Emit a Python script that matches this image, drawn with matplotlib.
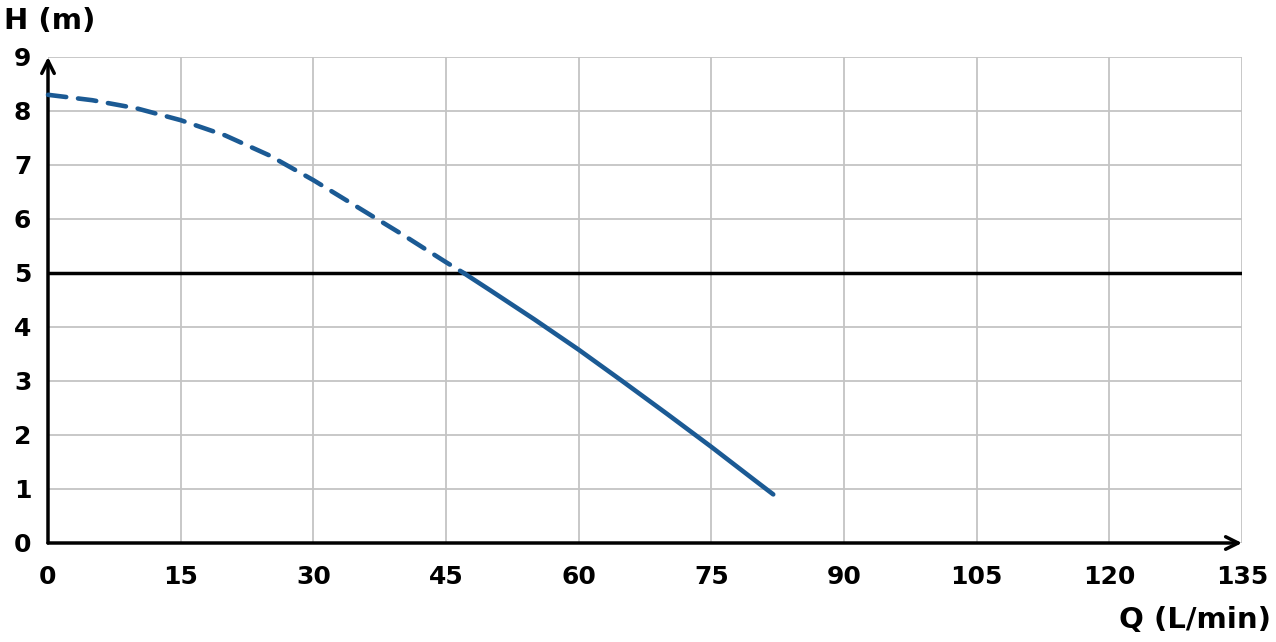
import matplotlib
matplotlib.use("Agg")
import matplotlib.pyplot as plt

# pump curve
q_dashed = [0, 5, 10, 15, 20, 25, 30, 35, 40, 45, 47]
h_dashed = [8.3, 8.2, 8.05, 7.83, 7.55, 7.18, 6.72, 6.22, 5.72, 5.2, 5.0]
q_solid = [47, 50, 55, 60, 65, 70, 75, 80, 82]
h_solid = [5.0, 4.68, 4.14, 3.58, 2.99, 2.39, 1.78, 1.15, 0.9]

h_limit = 5
x_ticks = [0, 15, 30, 45, 60, 75, 90, 105, 120, 135]
y_ticks = [0, 1, 2, 3, 4, 5, 6, 7, 8, 9]

blue = "#1b5a94"
plt.rcParams["font.family"] = ["DejaVu Sans"]

fig = plt.figure(figsize=(12.76, 6.42), dpi=100)
ax = fig.add_axes([48 / 1276, 1 - 543 / 642, (1242 - 48) / 1276, (543 - 57) / 642])
ax.set_xlim(0, 135)
ax.set_ylim(0, 9)

ax.set_xticks(x_ticks)
ax.set_yticks(y_ticks)
ax.grid(True, color="#c4c4c4", linewidth=1.3)
ax.set_axisbelow(True)
for s in ax.spines.values():
    s.set_visible(False)
ax.tick_params(length=0, labelsize=18)
for lab in ax.get_xticklabels() + ax.get_yticklabels():
    lab.set_fontweight("bold")
ax.tick_params(axis="y", pad=12)
ax.tick_params(axis="x", pad=16)

# axes with arrows
arrow = dict(arrowstyle="->,head_length=0.9,head_width=0.45", lw=2.5, color="black",
             shrinkA=0, shrinkB=0)
ax.annotate("", xy=(0, 9.0), xytext=(0, 0), arrowprops=arrow, annotation_clip=False)
ax.annotate("", xy=(135, 0), xytext=(0, 0), arrowprops=arrow, annotation_clip=False)

ax.axhline(h_limit, color="black", linewidth=2.5, zorder=3)

ax.plot(q_dashed, h_dashed, color=blue, linewidth=3.3, dashes=(4.0, 2.6),
        dash_capstyle="round", zorder=4, clip_on=False)
ax.plot(q_solid, h_solid, color=blue, linewidth=3.3, solid_capstyle="round", zorder=4)

fig.text(4 / 1276, 1 - 21 / 642, "H (m)", fontsize=21, fontweight="bold", va="center", ha="left")
fig.text(1271 / 1276, 1 - 620 / 642, "Q (L/min)", fontsize=21, fontweight="bold", va="center", ha="right")

fig.savefig("out.png", dpi=100)
